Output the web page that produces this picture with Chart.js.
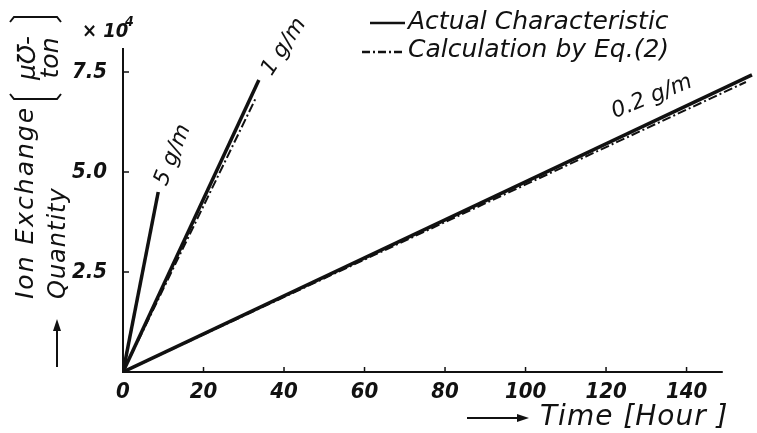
<!DOCTYPE html>
<html>
<head>
<meta charset="utf-8">
<script src="https://cdn.jsdelivr.net/npm/chart.js@4.4.1/dist/chart.umd.min.js"></script>
<style>
  html, body { margin: 0; padding: 0; background: #fff; }
  #wrap { width: 757px; height: 433px; position: relative; }
</style>
</head>
<body>
<div id="wrap"><canvas id="c"></canvas></div>
<script>
// Ion exchange quantity vs time, three resin concentrations
const concLabels = ["5 g/m", "1 g/m", "0.2 g/m"];
// end points of each straight line (all start at the origin)
const actualHours = [8.75, 33.75, 156.25];
const actualQty = [4.5, 7.3, 7.43];
const calcHours = [8.6, 33.0, 154.75];
const calcQty = [4.42, 6.85, 7.25];
const xTicks = [0, 20, 40, 60, 80, 100, 120, 140];
const yTicks = [2.5, 5.0, 7.5];

const FONT = "'DejaVu Sans', sans-serif";
const TICK_FONT = "'DejaVu Sans Condensed', 'DejaVu Sans', sans-serif";
const INK = "#111";

function lineData(hours, qty, i) {
  return [{ x: 0, y: 0 }, { x: hours[i], y: qty[i] }];
}

const datasets = [];
concLabels.forEach((lab, i) => {
  datasets.push({
    label: "Actual " + lab,
    data: lineData(actualHours, actualQty, i),
    borderColor: INK,
    borderWidth: 3.5,
    pointRadius: 0,
  });
  datasets.push({
    label: "Calc " + lab,
    data: lineData(calcHours, calcQty, i),
    borderColor: INK,
    borderWidth: 2,
    borderDash: [9, 3, 2, 3],
    pointRadius: 0,
  });
});

function rotText(ctx, t, x, y, deg, align) {
  ctx.save();
  ctx.translate(x, y);
  ctx.rotate(deg * Math.PI / 180);
  ctx.textAlign = align || "center";
  ctx.fillText(t, 0, 0);
  ctx.restore();
}

const decor = {
  id: "decor",
  afterDraw(chart) {
    const { ctx } = chart;
    const xs = chart.scales.x, ys = chart.scales.y;
    const x0 = xs.getPixelForValue(0), y0 = ys.getPixelForValue(0);
    ctx.save();
    ctx.strokeStyle = INK;
    ctx.fillStyle = INK;
    ctx.lineWidth = 2;
    // axes
    ctx.beginPath();
    ctx.moveTo(x0, ys.getPixelForValue(8.1));
    ctx.lineTo(x0, y0);
    ctx.lineTo(xs.getPixelForValue(149), y0);
    ctx.stroke();
    // tick marks
    ctx.lineWidth = 1.5;
    yTicks.forEach(v => {
      const p = ys.getPixelForValue(v);
      ctx.beginPath(); ctx.moveTo(x0, p); ctx.lineTo(x0 + 6, p); ctx.stroke();
    });
    xTicks.slice(1).forEach(v => {
      const p = xs.getPixelForValue(v);
      ctx.beginPath(); ctx.moveTo(p, y0); ctx.lineTo(p, y0 - 5); ctx.stroke();
    });

    // line labels
    ctx.textBaseline = "middle";
    ctx.font = "italic 22px " + FONT;
    rotText(ctx, concLabels[0], 173, 155, -68);
    rotText(ctx, concLabels[1], 284, 47, -57);
    rotText(ctx, concLabels[2], 652, 97, -22);

    // legend
    ctx.font = "italic 25px " + FONT;
    ctx.lineWidth = 2.5;
    ctx.beginPath(); ctx.moveTo(370, 23); ctx.lineTo(405, 23); ctx.stroke();
    ctx.textAlign = "left";
    ctx.fillText("Actual Characteristic", 408, 22);
    ctx.setLineDash([8, 3, 2, 3]);
    ctx.beginPath(); ctx.moveTo(362, 52); ctx.lineTo(405, 52); ctx.stroke();
    ctx.setLineDash([]);
    ctx.fillText("Calculation by Eq.(2)", 408, 50);

    // y axis title
    ctx.font = "italic 25px " + FONT;
    ctx.letterSpacing = "2px";
    rotText(ctx, "Ion Exchange", 26, 299, -90, "left");
    ctx.letterSpacing = "1px";
    ctx.font = "italic 24px " + FONT;
    rotText(ctx, "Quantity", 59, 299, -90, "left");
    ctx.letterSpacing = "0px";
    // unit in brackets
    ctx.font = "italic 25px " + FONT;
    rotText(ctx, "μ℧-", 28, 58, -90);
    rotText(ctx, "ton", 51, 58, -90);
    ctx.lineWidth = 2;
    ctx.beginPath();
    ctx.moveTo(10, 22); ctx.lineTo(14, 17); ctx.lineTo(57, 17); ctx.lineTo(61, 22);
    ctx.moveTo(10, 94); ctx.lineTo(14, 99); ctx.lineTo(57, 99); ctx.lineTo(61, 94);
    ctx.stroke();
    // up arrow
    ctx.beginPath(); ctx.moveTo(57, 367); ctx.lineTo(57, 324); ctx.stroke();
    ctx.beginPath(); ctx.moveTo(57, 319); ctx.lineTo(53, 331); ctx.lineTo(61, 331); ctx.closePath(); ctx.fill();

    // multiplier
    ctx.textAlign = "left";
    ctx.font = "italic bold 20px " + TICK_FONT;
    ctx.fillText("× 10", 82, 32);
    ctx.font = "italic bold 14px " + TICK_FONT;
    ctx.fillText("4", 125, 22);

    // x axis title
    ctx.lineWidth = 2;
    ctx.beginPath(); ctx.moveTo(467, 418); ctx.lineTo(522, 418); ctx.stroke();
    ctx.beginPath(); ctx.moveTo(529, 418); ctx.lineTo(517, 414); ctx.lineTo(517, 422); ctx.closePath(); ctx.fill();
    ctx.font = "italic 28px " + FONT;
    ctx.letterSpacing = "1px";
    ctx.fillText("Time [Hour ]", 540, 418);
    ctx.restore();
  }
};

const tickFont = { family: TICK_FONT, size: 22, style: "italic", weight: "bold" };

new Chart(document.getElementById("c"), {
  type: "line",
  data: { datasets },
  options: {
    responsive: true,
    maintainAspectRatio: false,
    animation: false,
    layout: { padding: { top: 48, right: 0, left: 0, bottom: 0 } },
    plugins: { legend: { display: false }, tooltip: { enabled: false } },
    scales: {
      x: {
        type: "linear",
        min: 0, max: 157.5,
        grid: { display: false },
        border: { display: false },
        afterBuildTicks: s => { s.ticks = xTicks.map(v => ({ value: v })); },
        afterFit: s => { s.height = 61; },
        ticks: { color: INK, font: tickFont, padding: -1, maxRotation: 0 },
      },
      y: {
        type: "linear",
        min: 0, max: 8.1,
        grid: { display: false },
        border: { display: false },
        afterBuildTicks: s => { s.ticks = yTicks.map(v => ({ value: v })); },
        afterFit: s => { s.width = 123; },
        ticks: { color: INK, font: tickFont, padding: 8, callback: v => v.toFixed(1) },
      },
    },
  },
  plugins: [decor],
});
</script>
</body>
</html>
